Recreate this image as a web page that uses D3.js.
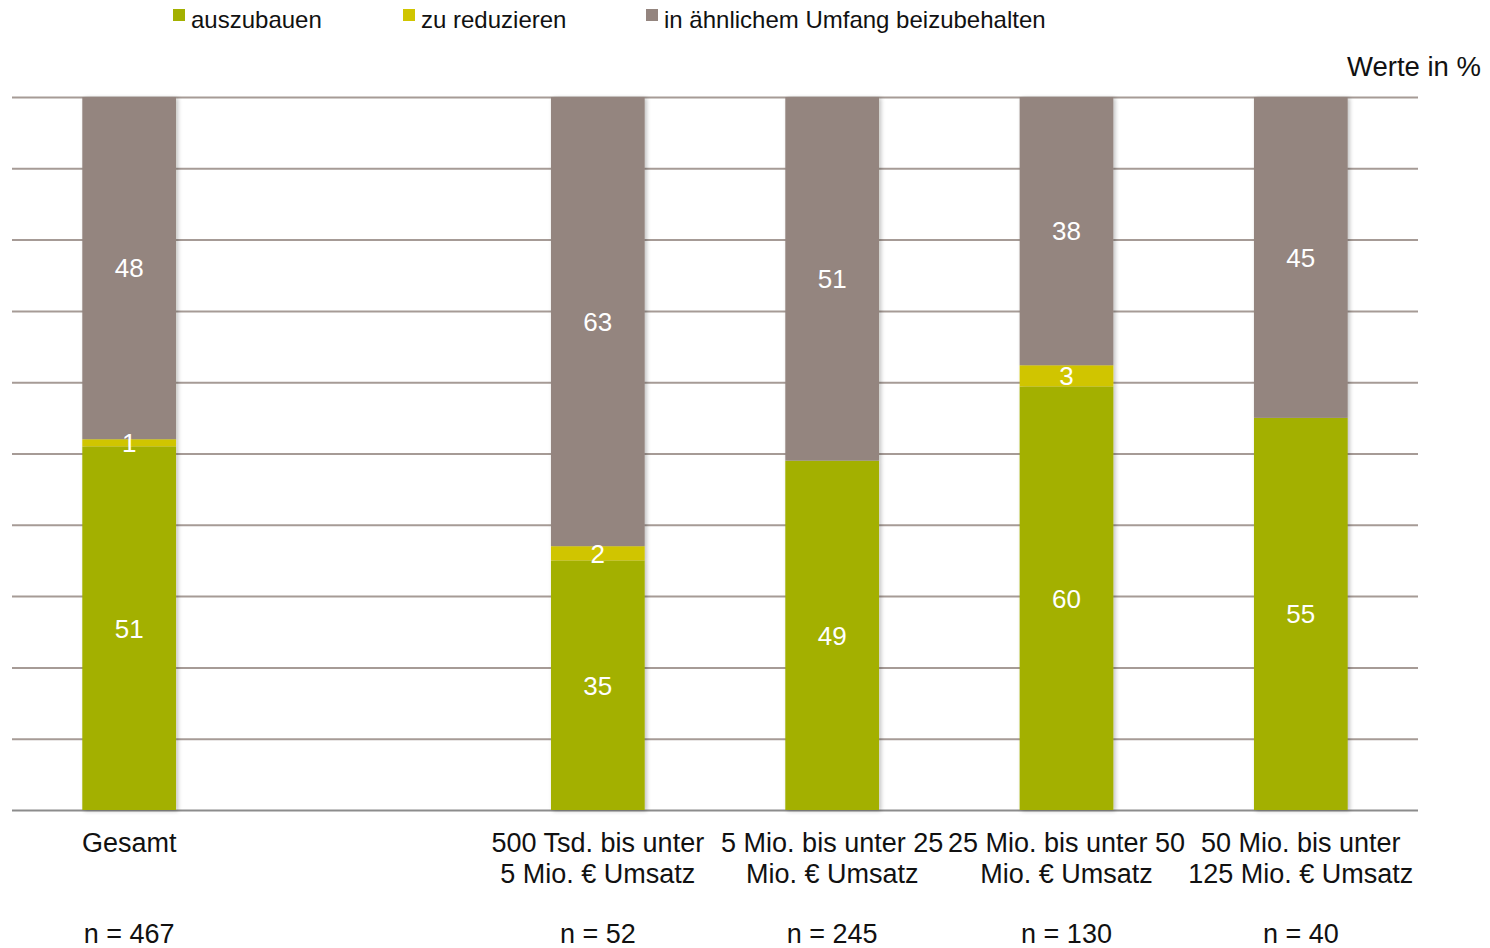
<!DOCTYPE html>
<html>
<head>
<meta charset="utf-8">
<script src="https://cdn.jsdelivr.net/npm/d3@7"></script>
<style>
  html, body { margin: 0; padding: 0; background: #ffffff; }
  svg { display: block; font-family: "Liberation Sans", Arial, sans-serif; }
</style>
</head>
<body>
<svg id="chart" width="1490" height="948"></svg>
<script>
// Categories (one empty slot separates the total from the size classes)
const categories = ["Gesamt", "gap", "c1", "c2", "c3", "c4"];
const categoryLines = [
  ["Gesamt"],
  [],
  ["500 Tsd. bis unter", "5 Mio. € Umsatz"],
  ["5 Mio. bis unter 25", "Mio. € Umsatz"],
  ["25 Mio. bis unter 50", "Mio. € Umsatz"],
  ["50 Mio. bis unter", "125 Mio. € Umsatz"]
];
const sampleSizes = ["n = 467", "", "n = 52", "n = 245", "n = 130", "n = 40"];

// Series values in %
const auszubauen   = [51, null, 35, 49, 60, 55];
const zuReduzieren = [1,  null, 2,  0,  3,  0];
const beibehalten  = [48, null, 63, 51, 38, 45];

const seriesNames  = ["auszubauen", "zu reduzieren", "in ähnlichem Umfang beizubehalten"];
const seriesColors = ["#a3b000", "#d0c500", "#94857f"];
const yTicks = [0, 10, 20, 30, 40, 50, 60, 70, 80, 90, 100];

const svg = d3.select("#chart");
const margin = { left: 12, right: 72, top: 97, bottom: 138 };
const W = 1490, H = 948;
const plotW = W - margin.left - margin.right;
const plotH = H - margin.top - margin.bottom;

const x = d3.scaleBand().domain(categories)
  .range([margin.left, margin.left + plotW])
  .paddingInner(0.6).paddingOuter(0.3);
const y = d3.scaleLinear().domain([0, 100]).range([margin.top + plotH, margin.top]);

// Soft shadow for bars
const defs = svg.append("defs");
const f = defs.append("filter").attr("id", "shadow")
  .attr("x", "-10%").attr("y", "-5%").attr("width", "130%").attr("height", "115%");
f.append("feGaussianBlur").attr("in", "SourceAlpha").attr("stdDeviation", 2);
f.append("feOffset").attr("dx", 2).attr("dy", 1).attr("result", "b");
f.append("feComponentTransfer").append("feFuncA").attr("type", "linear").attr("slope", 0.25);
const fm = f.append("feMerge");
fm.append("feMergeNode");
fm.append("feMergeNode").attr("in", "SourceGraphic");

// Gridlines via axis
const grid = svg.append("g")
  .attr("transform", `translate(${margin.left},0)`)
  .call(d3.axisRight(y).tickValues(yTicks).tickSize(plotW).tickFormat(""));
grid.select(".domain").remove();
grid.selectAll(".tick line")
  .attr("stroke", d => d === 0 ? "#8c8c8c" : "#a69b96")
  .attr("stroke-width", 2);

// Stacked, normalised to 100 %
const rows = categories.map((c, i) => ({
  cat: c,
  v: [auszubauen[i], zuReduzieren[i], beibehalten[i]]
})).filter(r => r.v[0] !== null);

const barG = svg.append("g");
rows.forEach(r => {
  const total = d3.sum(r.v);
  let acc = 0;
  const g = barG.append("g").attr("filter", "url(#shadow)");
  r.v.forEach((val, k) => {
    const y0 = acc / total * 100;
    acc += val;
    const y1 = acc / total * 100;
    if (val <= 0) return;
    g.append("rect")
      .attr("x", x(r.cat))
      .attr("width", x.bandwidth())
      .attr("y", y(y1))
      .attr("height", y(y0) - y(y1))
      .attr("fill", seriesColors[k]);
  });
});

// Value labels
rows.forEach(r => {
  const total = d3.sum(r.v);
  let acc = 0;
  r.v.forEach((val, k) => {
    const y0 = acc / total * 100;
    acc += val;
    const y1 = acc / total * 100;
    if (val <= 0) return;
    svg.append("text")
      .attr("x", x(r.cat) + x.bandwidth() / 2)
      .attr("y", y((y0 + y1) / 2))
      .attr("dy", "0.36em")
      .attr("text-anchor", "middle")
      .attr("fill", "#ffffff")
      .attr("font-size", 26)
      .text(val);
  });
});

// Category labels
categories.forEach((c, i) => {
  const cx = x(c) + x.bandwidth() / 2;
  const t = svg.append("text")
    .attr("text-anchor", "middle")
    .attr("font-size", 27)
    .attr("fill", "#111");
  categoryLines[i].forEach((line, j) => {
    t.append("tspan").attr("x", cx).attr("y", 852 + j * 31).text(line);
  });
  if (sampleSizes[i]) {
    svg.append("text")
      .attr("x", cx).attr("y", 943)
      .attr("text-anchor", "middle")
      .attr("font-size", 27)
      .attr("fill", "#111")
      .text(sampleSizes[i]);
  }
});

// Unit note
svg.append("text")
  .attr("x", 1481).attr("y", 76)
  .attr("text-anchor", "end")
  .attr("font-size", 27.5)
  .attr("fill", "#111")
  .text("Werte in %");

// Legend
const legendX = [173, 403, 646];
seriesNames.forEach((name, k) => {
  svg.append("rect")
    .attr("x", legendX[k]).attr("y", 9)
    .attr("width", 12).attr("height", 12)
    .attr("fill", seriesColors[k]);
  svg.append("text")
    .attr("x", legendX[k] + 18).attr("y", 28)
    .attr("font-size", 24)
    .attr("fill", "#111")
    .text(name);
});
</script>
</body>
</html>
